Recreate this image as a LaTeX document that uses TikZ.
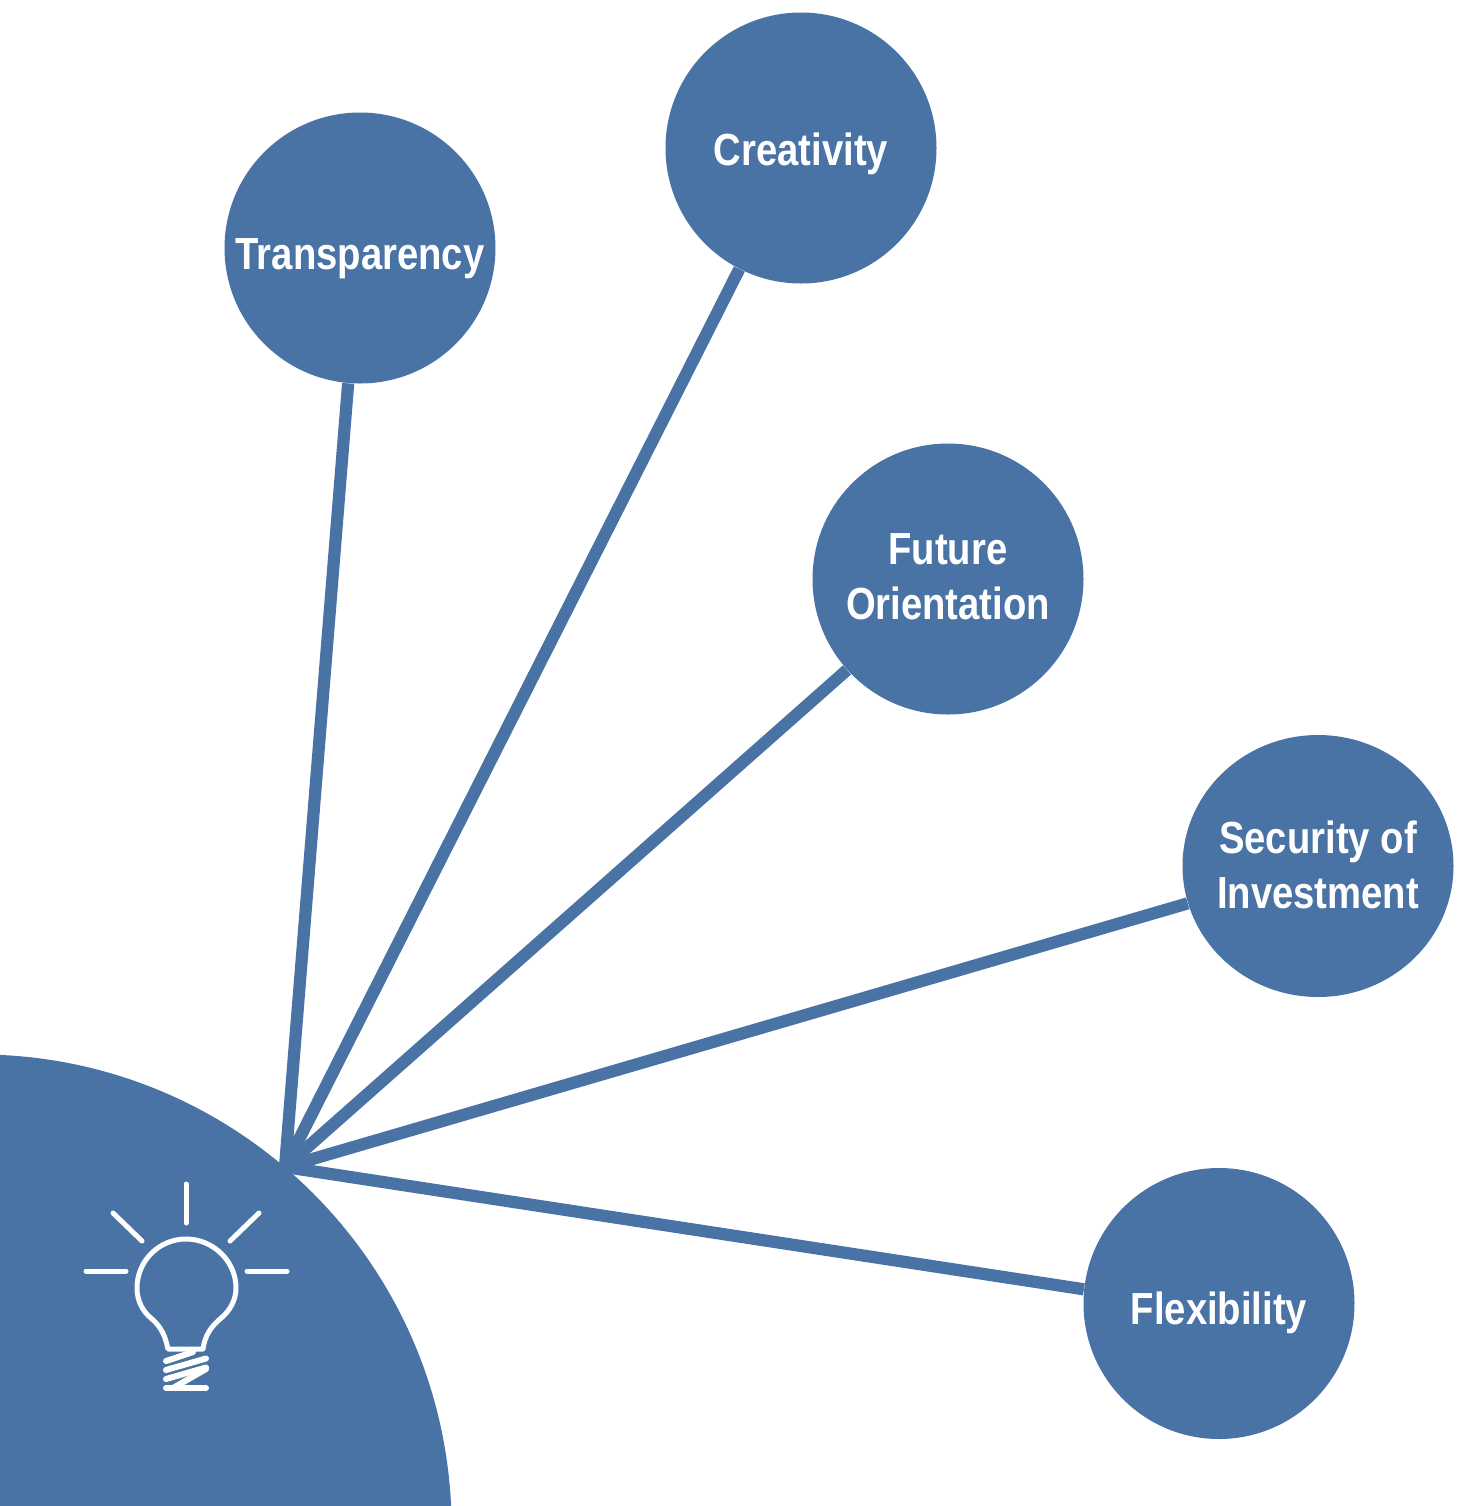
\documentclass[tikz,border=0pt]{standalone}
\usepackage{fontspec}
\usetikzlibrary{shapes.geometric}
\setmainfont{Liberation Sans}[FakeStretch=0.85,BoldFont={Liberation Sans Bold}]
\definecolor{steel}{HTML}{4A73A5}
\newcommand{\oneline}[2]{\makebox[0pt]{\raisebox{#1}[0pt][0pt]{#2}}}
\newcommand{\twolines}[3]{\makebox[0pt]{\raisebox{#1}[0pt][0pt]{\begin{tabular}[b]{@{}c@{}}#2\\#3\end{tabular}}}}
\tikzset{
  x=0.5pt,y=-0.5pt,
  spoke/.style={draw=steel,line width=6.1pt},
  topic/.style={circle,fill=steel,minimum size=135.5pt,inner sep=0pt,text=white,align=center,
    font=\fontsize{22.5}{27.5}\selectfont\bfseries},
  wide topic/.style={ellipse,fill=steel,minimum width=135.5pt,minimum height=131pt,inner sep=0pt,text=white,align=center,
    font=\fontsize{22.5}{27.5}\selectfont\bfseries},
  glow/.style={draw=white,line width=2.5pt,line cap=round,line join=round},
  thread/.style={draw=white,line width=3pt,line cap=round,line join=round},
}
\begin{document}
\begin{tikzpicture}
\useasboundingbox (0,0) rectangle (1459,1506);
\begin{scope}
\clip (0,0) rectangle (1459,1506);
\fill[steel] (-22,1528) circle[radius=236.8pt];
\end{scope}
\coordinate (hub) at (285,1167);
\node[topic] (tr) at (360,248) {\oneline{-10.5pt}{Transparency}};
\node[topic] (cr) at (801,148) {\oneline{-8.5pt}{Creativity}};
\node[topic] (fu) at (948,579) {\twolines{-20.25pt}{Future}{Orientation}};
\node[wide topic] (se) at (1318,866) {\twolines{-21.25pt}{Security of}{Investment}};
\node[topic] (fl) at (1219,1303.5) {\oneline{-10.25pt}{Flexibility}};
\draw[spoke] (hub) -- (tr.265);
\draw[spoke] (hub) -- (cr.243);
\draw[spoke] (hub) -- (fu.222.3);
\draw[spoke] (hub) -- (se.196.7);
\draw[spoke] (hub) -- (fl.174.25);
% lamp
\draw[glow] (186,1184) -- (186,1223);
\draw[glow] (230,1241) -- (259,1213);
\draw[glow] (142,1241) -- (113,1213);
\draw[glow] (86,1271) -- (126,1271);
\draw[glow] (247,1271) -- (287,1271);
\draw[glow] (168,1349) .. controls (165,1335) and (161,1327) .. (152,1319)
  .. controls (142,1311) and (137,1300) .. (137,1288)
  .. controls (137,1261) and (159,1239) .. (186,1239)
  .. controls (213,1239) and (236,1261) .. (236,1288)
  .. controls (236,1300) and (230,1311) .. (220,1319)
  .. controls (211,1327) and (205,1335) .. (203,1349) -- cycle;
\draw[thread] (166,1361) -- (193,1352);
\draw[thread] (166,1370) -- (206,1358.5);
\draw[thread] (166,1379) -- (206,1367.5);
\draw[thread] (166,1388) -- (206,1388);
\draw[thread] (173,1388) -- (206,1369);
\end{tikzpicture}
\end{document}
